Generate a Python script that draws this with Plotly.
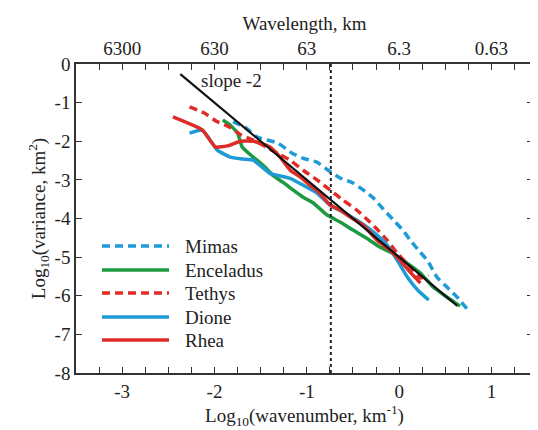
import plotly.graph_objects as go

# ---- data (log10 wavenumber, log10 variance) ----
mimas_x = [-1.80, -1.67, -1.54, -1.31, -1.16, -1.04, -0.89, -0.77, -0.64, -0.50, -0.39, -0.28, -0.17, -0.05, 0.04, 0.12, 0.22, 0.31, 0.41, 0.52, 0.63, 0.74]
mimas_y = [-1.50, -1.63, -1.89, -2.05, -2.31, -2.44, -2.54, -2.75, -2.95, -3.08, -3.26, -3.47, -3.76, -4.07, -4.30, -4.56, -4.85, -5.10, -5.52, -5.78, -6.04, -6.35]

enceladus_x = [-1.91, -1.83, -1.75, -1.70, -1.63, -1.54, -1.44, -1.37, -1.26, -1.15, -1.04, -0.93, -0.78, -0.64, -0.50, -0.35, -0.21, -0.07, 0.09, 0.23, 0.37, 0.52, 0.66]
enceladus_y = [-1.45, -1.58, -1.79, -2.15, -2.31, -2.49, -2.70, -2.88, -3.06, -3.26, -3.45, -3.60, -3.91, -4.09, -4.30, -4.51, -4.74, -4.90, -5.16, -5.41, -5.78, -6.04, -6.27]

tethys_x = [-2.27, -2.11, -1.98, -1.84, -1.71, -1.58, -1.44, -1.32, -1.18, -1.04, -0.89, -0.75, -0.61, -0.46, -0.34, -0.23, -0.13, -0.02, 0.12, 0.23, 0.32]
tethys_y = [-1.11, -1.27, -1.48, -1.63, -1.84, -1.97, -2.15, -2.31, -2.49, -2.75, -3.00, -3.26, -3.52, -3.78, -4.04, -4.30, -4.56, -4.90, -5.26, -5.54, -5.47]

dione_x = [-2.27, -2.13, -1.97, -1.83, -1.70, -1.58, -1.51, -1.40, -1.18, -1.04, -0.89, -0.75, -0.61, -0.46, -0.35, -0.24, -0.13, -0.02, 0.09, 0.20, 0.32]
dione_y = [-1.79, -1.71, -2.23, -2.41, -2.46, -2.49, -2.62, -2.83, -2.96, -3.14, -3.34, -3.65, -3.83, -4.04, -4.22, -4.43, -4.69, -5.08, -5.52, -5.85, -6.11]

rhea_x = [-2.45, -2.13, -1.99, -1.86, -1.72, -1.58, -1.50, -1.40, -1.29, -1.18, -1.07, -0.97, -0.86, -0.75, -0.64, -0.53, -0.39, -0.24, -0.10, 0.01, 0.12, 0.23]
rhea_y = [-1.37, -1.71, -2.15, -2.12, -2.00, -2.00, -2.05, -2.15, -2.41, -2.75, -2.93, -3.13, -3.34, -3.65, -3.78, -3.96, -4.17, -4.56, -4.82, -5.08, -5.39, -5.67]

slope_x = [-2.37, 0.63]
slope_y = [-0.26, -6.26]

cutoff_logk = -0.74
slope_label = "slope -2"
slope_label_x = -2.17
slope_label_y = -0.42

bottom_ticks = [-3, -2, -1, 0, 1]
bottom_labels = ["-3", "-2", "-1", "0", "1"]
top_labels = ["6300", "630", "63", "6.3", "0.63"]
y_ticks = [0, -1, -2, -3, -4, -5, -6, -7, -8]
y_labels = ["0", "-1", "-2", "-3", "-4", "-5", "-6", "-7", "-8"]

BLUE = "#1E9BD7"
GREEN = "#1C9A3F"
RED = "#E02B27"
FONT = "Liberation Serif"
INK = "#222222"
DASH = "8px,5px"

series = [
    ("Mimas", mimas_x, mimas_y, BLUE, DASH),
    ("Enceladus", enceladus_x, enceladus_y, GREEN, "solid"),
    ("Tethys", tethys_x, tethys_y, RED, DASH),
    ("Dione", dione_x, dione_y, BLUE, "solid"),
    ("Rhea", rhea_x, rhea_y, RED, "solid"),
]

# the page body adds an 8px offset; the figure is sized so the plot area
# lands at window pixels x 76..533, y 64..373
OFF = 8
W, H = 538 - OFF, 430 - OFF
L, T = 76 - OFF, 64 - OFF
R, B = 538 - 533, 430 - 373
PW, PH = W - L - R, H - T - B

fig = go.Figure()
for name, xs, ys, col, dash in series:
    fig.add_trace(go.Scatter(x=xs, y=ys, mode="lines", name=name, showlegend=False,
                             line=dict(color=col, width=3.5, dash=dash, shape="spline", smoothing=0.4)))
fig.add_trace(go.Scatter(x=slope_x, y=slope_y, mode="lines", line=dict(color="#111111", width=2.2),
                         showlegend=False, hoverinfo="skip"))
# dummy trace to activate top axis
fig.add_trace(go.Scatter(x=bottom_ticks, y=[None] * len(bottom_ticks), xaxis="x2",
                         showlegend=False, hoverinfo="skip"))

fig.add_vline(x=cutoff_logk, line=dict(color=INK, width=2, dash="dot"))
fig.add_annotation(x=slope_label_x, y=slope_label_y, text=slope_label, showarrow=False,
                   xanchor="left", yanchor="middle", font=dict(family=FONT, size=19, color=INK))

# legend drawn by hand (long line samples, tight rows as in the reference); window pixels
leg_x0, leg_x1, leg_text_x = 102, 169, 183
leg_rows = [246, 270, 293, 317, 340]
for (name, xs, ys, col, dash), py in zip(series, leg_rows):
    yp = (373 - py) / PH
    fig.add_shape(type="line", xref="paper", yref="paper",
                  x0=(leg_x0 - 76) / PW, x1=(leg_x1 - 76) / PW, y0=yp, y1=yp,
                  line=dict(color=col, width=3.5, dash=dash))
    fig.add_annotation(xref="paper", yref="paper", x=(leg_text_x - 76) / PW, y=yp, text=name,
                       showarrow=False, xanchor="left", yanchor="middle",
                       font=dict(family=FONT, size=19, color=INK))

tick_style = dict(showline=True, linecolor="#333333", linewidth=1.5,
                  ticks="inside", ticklen=6, tickcolor="#333333", tickwidth=1.3,
                  showgrid=False, zeroline=False, automargin=False,
                  tickfont=dict(family=FONT, size=19, color=INK))
minor = dict(dtick=0.25, tick0=0, ticks="inside", ticklen=6, tickcolor="#333333", tickwidth=1.3, showgrid=False)

fig.update_layout(
    width=W, height=H,
    margin=dict(l=L, r=R, t=T, b=B),
    paper_bgcolor="white", plot_bgcolor="white",
    font=dict(family=FONT, size=19, color=INK),
    showlegend=False,
    xaxis=dict(**tick_style, range=[-3.5, 1.45], minor=minor, tickvals=bottom_ticks, ticktext=bottom_labels,
               mirror=True,
               title=dict(text="Log<sub>10</sub>(wavenumber, km<sup>-1</sup>)",
                          font=dict(family=FONT, size=19, color=INK), standoff=2)),
    xaxis2=dict(**tick_style, range=[-3.5, 1.45], minor=minor, overlaying="x", side="top",
                tickvals=bottom_ticks, ticktext=top_labels,
                title=dict(text="Wavelength, km", font=dict(family=FONT, size=19, color=INK), standoff=2)),
    yaxis=dict(**tick_style, range=[-8, 0], tickvals=y_ticks, ticktext=y_labels, mirror="ticks",
               title=dict(text="Log<sub>10</sub>(variance, km<sup>2</sup>)",
                          font=dict(family=FONT, size=19, color=INK), standoff=4)),
)

fig.write_html("out.html")
